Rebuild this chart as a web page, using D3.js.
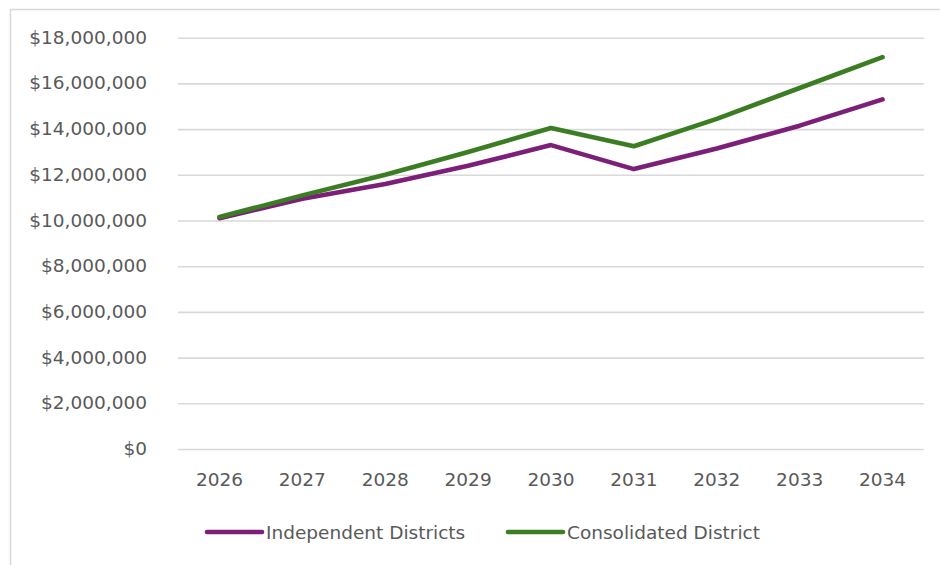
<!DOCTYPE html>
<html><head><meta charset="utf-8">
<script src="https://cdn.jsdelivr.net/npm/d3@7"></script>
<style>
html,body{margin:0;padding:0;background:#fff;}
text{font-family:"DejaVu Sans",sans-serif;fill:#595959;}
</style></head>
<body><svg id="c" width="940" height="565"></svg>
<script>
const years = ["2026","2027","2028","2029","2030","2031","2032","2033","2034"];
const independent = [10100000,10950000,11600000,12400000,13300000,12250000,13150000,14150000,15300000];
const consolidated = [10150000,11100000,12000000,13000000,14050000,13250000,14450000,15800000,17150000];
const yTicks = [0,2000000,4000000,6000000,8000000,10000000,12000000,14000000,16000000,18000000];
const seriesNames = ["Independent Districts","Consolidated District"];
const colors = ["#7b1f78","#3b7d23"];

const svg = d3.select("#c");
// frame
svg.append("path").attr("d","M10.5,565 V9.5 H940").attr("fill","none").attr("stroke","#d9d9d9").attr("stroke-width",1.5);

const pL=178,pR=924,pT=37.7,pB=449;
const x = d3.scaleBand().domain(years).range([pL,pR]);
const y = d3.scaleLinear().domain([0,18000000]).range([pB,pT]);

const fmt = d3.format("$,");
const yAxis = svg.append("g").attr("transform",`translate(${pL},0)`)
  .call(d3.axisLeft(y).tickValues(yTicks).tickFormat(fmt).tickSize(-(pR-pL)).tickPadding(31));
yAxis.select(".domain").remove();
yAxis.selectAll(".tick line").attr("stroke","#d9d9d9").attr("stroke-width",1.6);
yAxis.selectAll(".tick text").attr("font-size","18.5px").attr("fill","#595959").attr("dy","0.3em");

const xAxis = svg.append("g").attr("transform",`translate(0,${pB})`)
  .call(d3.axisBottom(x).tickSize(0).tickPadding(24));
xAxis.select(".domain").remove();
xAxis.selectAll(".tick text").attr("font-size","18.5px").attr("fill","#595959").attr("dy","0.71em");

const line = d3.line().x((d,i)=>x(years[i])+x.bandwidth()/2).y(d=>y(d));
[independent,consolidated].forEach((s,i)=>{
  svg.append("path").datum(s).attr("d",line).attr("fill","none")
    .attr("stroke",colors[i]).attr("stroke-width",4.6)
    .attr("stroke-linecap","round").attr("stroke-linejoin","round");
});

const legX=[207,508];
seriesNames.forEach((n,i)=>{
  const g=svg.append("g").attr("transform",`translate(${legX[i]},532)`);
  g.append("line").attr("x1",0).attr("x2",55).attr("y1",0).attr("y2",0)
    .attr("stroke",colors[i]).attr("stroke-width",4.6).attr("stroke-linecap","round");
  g.append("text").attr("x",59).attr("y",0).attr("dy","0.36em").attr("font-size","18.5px").text(n);
});
</script></body></html>
